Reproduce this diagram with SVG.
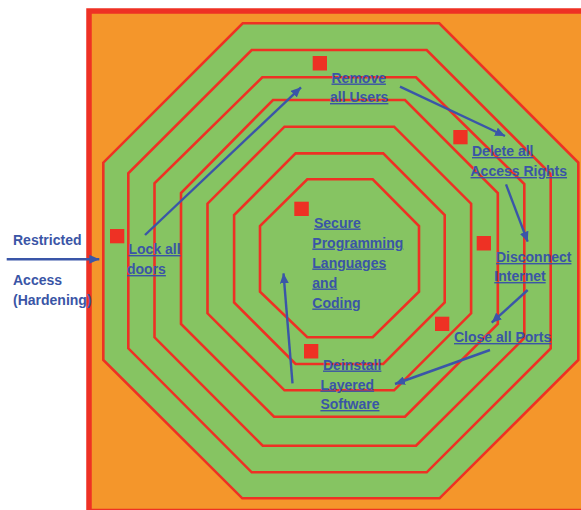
<svg xmlns="http://www.w3.org/2000/svg" width="581" height="510" viewBox="0 0 581 510">
<style>
.oct{fill:#86C462;stroke:#EE3124;stroke-width:2.6;stroke-linejoin:miter}
.sq{fill:#EE3124}
.t{font-family:"Liberation Sans",Arial,sans-serif;font-weight:bold;font-size:14px;fill:#3A55A6}
.u{text-decoration:underline}
.c{stroke:#3A56A8;stroke-width:2.4;fill:none}
</style>
<defs>
<marker id="ah" markerUnits="userSpaceOnUse" markerWidth="11" markerHeight="9" refX="10" refY="4.5" orient="auto">
<path d="M0,0 L10,4.5 L0,9 z" fill="#3A56A8"/>
</marker>
</defs>
<rect width="581" height="510" fill="#FFFFFF"/>
<g id="frame">
<rect x="89" y="11" width="500" height="500.5" fill="#F4962B" stroke="#EE3124" stroke-width="5.5"/>
</g>
<g id="layers">
<polygon id="layer1" class="oct" points="242.7,23.3 439.3,23.3 578.3,162.5 578.3,360 439.5,498.3 242.3,498.3 103.3,360 103.3,162.7"/>
<polygon id="layer2" class="oct" points="251.7,50 426.7,50 550.7,174 550.7,348.5 426.7,472.3 251.7,472.3 128.3,348.3 128.3,173.3"/>
<polygon id="layer3" class="oct" points="262.3,77.3 416,77.3 524.3,184 524.3,338 416,445.7 262.7,445.7 154.5,337.3 154.5,183.3"/>
<polygon id="layer4" class="oct" points="273,100 405,100 497.8,193 497.8,324 405,416.7 274,416.7 181,324 181,193"/>
<polygon id="layer5" class="oct" points="284.5,126.7 394.1,126.7 471.1,203.7 471.1,313.3 394.1,390.3 284.5,390.3 207.5,313.3 207.5,203.7"/>
<polygon id="layer6" class="oct" points="295.6,153.4 383.2,153.4 444.7,215 444.7,302.4 383.2,364 295.6,364 234.1,302.4 234.1,215"/>
<polygon id="layer7" class="oct" points="307.3,179.3 372.7,179.3 419,226 419,291.7 372.7,337.3 307.3,337.3 260,291.7 260,226"/>
</g>
<g id="restricted">
<text class="t" x="13" y="244.5">Restricted</text>
<text class="t" x="13" y="285">Access</text>
<text class="t" x="13" y="305">(Hardening)</text>
</g>
<g id="lock">
<rect class="sq" x="110" y="229" width="14.3" height="14.3"/>
<text class="t u" x="128.5" y="254">Lock all</text>
<text class="t u" x="127" y="274">doors</text>
</g>
<g id="remove">
<rect class="sq" x="312.7" y="56" width="14.3" height="14.5"/>
<text class="t u" x="331.5" y="82.5">Remove</text>
<text class="t u" x="330" y="102">all Users</text>
</g>
<g id="delete">
<rect class="sq" x="453.3" y="130" width="14.3" height="14.3"/>
<text class="t u" x="472" y="156">Delete all</text>
<text class="t u" x="470.5" y="176">Access Rights</text>
</g>
<g id="disconnect">
<rect class="sq" x="476.7" y="236" width="14.3" height="14.5"/>
<text class="t u" x="496" y="262">Disconnect</text>
<text class="t u" x="494.3" y="281">Internet</text>
</g>
<g id="close">
<rect class="sq" x="435" y="316.7" width="14.3" height="14.3"/>
<text class="t u" x="454" y="342">Close all Ports</text>
</g>
<g id="deinstall">
<rect class="sq" x="304" y="344" width="14.3" height="14.5"/>
<text class="t u" x="323" y="369.5">Deinstall</text>
<text class="t u" x="320.4" y="389.5">Layered</text>
<text class="t u" x="320.4" y="409">Software</text>
</g>
<g id="secure">
<rect class="sq" x="294.3" y="201.7" width="14.5" height="14.3"/>
<text class="t u" x="314" y="227.5">Secure</text>
<text class="t u" x="312.3" y="247.5">Programming</text>
<text class="t u" x="312.3" y="267.5">Languages</text>
<text class="t u" x="312.3" y="287.5">and</text>
<text class="t u" x="312.3" y="307.5">Coding</text>
</g>
<g id="connectors">
<line class="c" x1="6.7" y1="259.3" x2="99.3" y2="259.3" marker-end="url(#ah)"/>
<line class="c" x1="145" y1="235" x2="301" y2="87.3" marker-end="url(#ah)"/>
<line class="c" x1="400" y1="86.7" x2="505" y2="136" marker-end="url(#ah)"/>
<line class="c" x1="506" y1="184.3" x2="527.7" y2="241.7" marker-end="url(#ah)"/>
<line class="c" x1="527.7" y1="290" x2="491.7" y2="322.7" marker-end="url(#ah)"/>
<line class="c" x1="490" y1="350" x2="395" y2="384" marker-end="url(#ah)"/>
<line class="c" x1="292.5" y1="383.3" x2="283.5" y2="273.3" marker-end="url(#ah)"/>
</g>
</svg>
